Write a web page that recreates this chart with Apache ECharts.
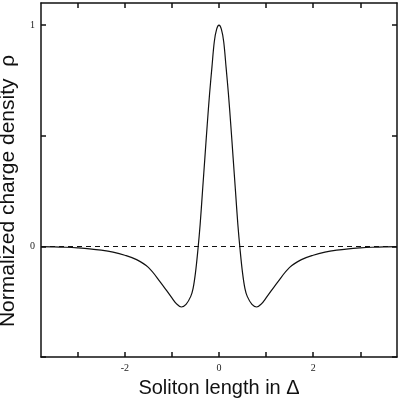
<!DOCTYPE html>
<html>
<head>
<meta charset="utf-8">
<script src="https://cdn.jsdelivr.net/npm/echarts@6/dist/echarts.min.js"></script>
<style>
  html, body { margin: 0; padding: 0; background: #fff; }
  #main { width: 399px; height: 400px; }
</style>
</head>
<body>
<div id="main"></div>
<script>
// soliton length (in units of Delta)
var xs = [-3.78, -3.5, -3.25, -3.0, -2.75, -2.5, -2.25, -2.0, -1.75, -1.5, -1.25, -1.0,
  -0.9, -0.8, -0.7, -0.6, -0.55, -0.5, -0.45, -0.4, -0.35, -0.3, -0.25, -0.2, -0.15, -0.1, -0.05,
  0,
  0.05, 0.1, 0.15, 0.2, 0.25, 0.3, 0.35, 0.4, 0.45, 0.5, 0.55, 0.6, 0.7, 0.8, 0.9,
  1.0, 1.25, 1.5, 1.75, 2.0, 2.25, 2.5, 2.75, 3.0, 3.25, 3.5, 3.78];
// normalized charge density rho
var rho = [-0.001, -0.002, -0.004, -0.007, -0.011, -0.017, -0.026, -0.04, -0.06, -0.095, -0.16, -0.233,
  -0.26, -0.274, -0.262, -0.226, -0.19, -0.12, -0.02, 0.10, 0.25, 0.40, 0.55, 0.69, 0.81, 0.925, 0.982,
  1.0,
  0.982, 0.925, 0.81, 0.69, 0.55, 0.40, 0.25, 0.10, -0.02, -0.12, -0.19, -0.226, -0.262, -0.274, -0.26,
  -0.233, -0.16, -0.095, -0.06, -0.04, -0.026, -0.017, -0.011, -0.007, -0.004, -0.002, -0.001];
var xTicks = [-3, -2, -1, 0, 1, 2, 3];
var xLabels = [-2, 0, 2];
var yTicks = [-0.5, 0, 0.5, 1];
var yLabels = [0, 1];

var curve = [];
for (var i = 0; i < xs.length; i++) {
  curve.push([xs[i], rho[i]]);
}

var chart = echarts.init(document.getElementById('main'));
var tickFont = { fontFamily: 'Liberation Serif', fontSize: 10, color: '#222' };
var lineStyle = { color: '#111', width: 1.5 };

var option = {
  animation: false,
  grid: { left: 41, right: 2, top: 3, bottom: 43, containLabel: false, outerBoundsMode: 'none' },
  xAxis: [
    {
      type: 'value', min: -3.78, max: 3.78, position: 'bottom',
      name: 'Soliton length in Δ', nameLocation: 'middle', nameGap: 21,
      nameTextStyle: { fontFamily: 'Liberation Sans', fontSize: 20, color: '#111' },
      axisLine: { show: true, onZero: false, lineStyle: lineStyle },
      axisTick: { show: true, inside: true, length: 5, customValues: xTicks, lineStyle: lineStyle },
      axisLabel: Object.assign({ customValues: xLabels, margin: 6 }, tickFont),
      splitLine: { show: false }
    },
    {
      type: 'value', min: -3.78, max: 3.78, position: 'top',
      axisLine: { show: true, onZero: false, lineStyle: lineStyle },
      axisTick: { show: true, inside: true, length: 5, customValues: xTicks, lineStyle: lineStyle },
      axisLabel: { show: false },
      splitLine: { show: false }
    }
  ],
  yAxis: [
    {
      type: 'value', min: -0.5, max: 1.1, position: 'left',
      name: 'Normalized charge density  ρ', nameLocation: 'middle', nameGap: 16,
      nameTextStyle: { fontFamily: 'Liberation Sans', fontSize: 21, color: '#111', padding: [0, 22, 0, 0] },
      axisLine: { show: true, onZero: false, lineStyle: lineStyle },
      axisTick: { show: true, inside: true, length: 5, customValues: yTicks, lineStyle: lineStyle },
      axisLabel: Object.assign({ customValues: yLabels, margin: 6 }, tickFont),
      splitLine: { show: false }
    },
    {
      type: 'value', min: -0.5, max: 1.1, position: 'right',
      axisLine: { show: true, onZero: false, lineStyle: lineStyle },
      axisTick: { show: true, inside: true, length: 5, customValues: yTicks, lineStyle: lineStyle },
      axisLabel: { show: false },
      splitLine: { show: false }
    }
  ],
  series: [
    {
      type: 'line',
      data: curve,
      smooth: 0.35,
      showSymbol: false,
      lineStyle: { color: '#111', width: 1.2 },
      markLine: {
        silent: true,
        symbol: 'none',
        label: { show: false },
        lineStyle: { color: '#111', width: 1, type: [5, 4] },
        data: [{ yAxis: 0 }]
      }
    }
  ]
};
chart.setOption(option);
</script>
</body>
</html>
